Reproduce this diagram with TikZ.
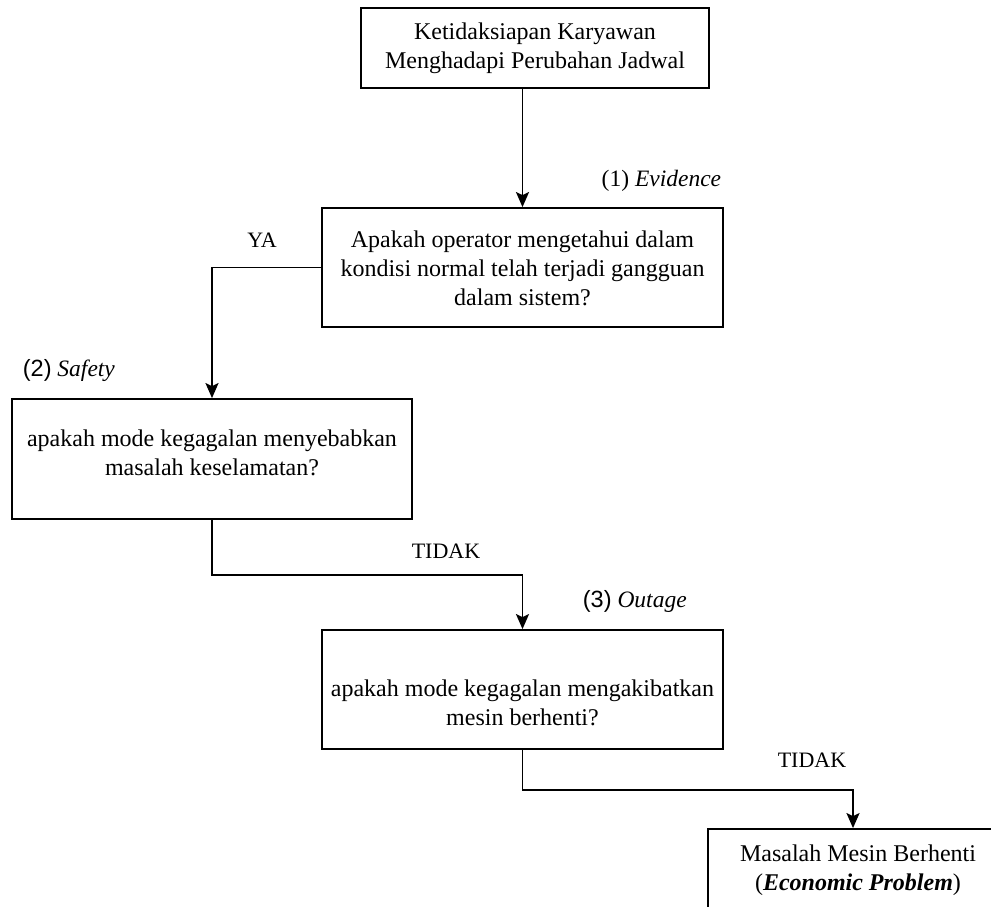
\documentclass[tikz,border=0pt]{standalone}
\usepackage{fontspec}
\setmainfont{Liberation Serif}
\newfontfamily\numsans{Liberation Sans}
\usetikzlibrary{arrows.meta}
\begin{document}
\begin{tikzpicture}[x=1pt,y=-1pt,
  line width=1.8pt,
  stepbox/.style={draw, rectangle, inner sep=0pt},
  boxtext/.style={align=center, inner sep=0pt, font=\fontsize{24}{29}\selectfont},
  lbl/.style={inner sep=0pt, font=\fontsize{22}{26}\selectfont},
  caselbl/.style={inner sep=0pt, font=\fontsize{23.5}{28}\selectfont},
  flow/.style={-{Stealth[length=15pt,width=13pt,inset=3pt]}}
]
\useasboundingbox (0,0) rectangle (991,907);
\clip (0,0) rectangle (991,907);

% boxes
\node[stepbox, minimum width=348pt, minimum height=80pt] (b1) at (535,48) {};
\node[stepbox, minimum width=401pt, minimum height=119pt] (b2) at (522.5,267.5) {};
\node[stepbox, minimum width=400pt, minimum height=120pt] (b3) at (212,459) {};
\node[stepbox, minimum width=401pt, minimum height=119pt] (b4) at (522.5,689.5) {};
\node[stepbox, minimum width=290pt, minimum height=120pt] (b5) at (853,889) {};

% box texts
\node[boxtext] (t1) at (535,48) {Ketidaksiapan Karyawan\\Menghadapi Perubahan Jadwal};
\node[boxtext] (t2) at (522.5,268.5) {Apakah operator mengetahui dalam\\kondisi normal telah terjadi gangguan\\dalam sistem?};
\node[boxtext] (t3) at (212,453) {apakah mode kegagalan menyebabkan\\masalah keselamatan?};
\node[boxtext] (t4) at (522.5,703) {apakah mode kegagalan mengakibatkan\\mesin berhenti?};
\node[boxtext] (t5) at (858,870) {Masalah Mesin Berhenti\\(\textbf{\textit{Economic Problem}})};

% connectors
\draw[flow] (b2.north |- b1.south) -- (b2.north);
\draw[flow] (b2.west) -| (b3.north);
\draw[flow] (b3.south) -- ++(0,55) -| (b4.north);
\draw[flow] (b4.south) -- ++(0,40) -| (b5.north);

% connector labels
\node[caselbl, anchor=east] (l1) at (722,181) {(1) \textit{Evidence}};
\node[lbl] (l2) at (262,240) {YA};
\node[caselbl, anchor=west] (l3) at (22,371) {{\numsans (2)} \textit{Safety}};
\node[lbl] (l4) at (446,551) {TIDAK};
\node[caselbl, anchor=west] (l5) at (582,601) {{\numsans (3)} \textit{Outage}};
\node[lbl] (l6) at (812,760) {TIDAK};
\end{tikzpicture}
\end{document}
